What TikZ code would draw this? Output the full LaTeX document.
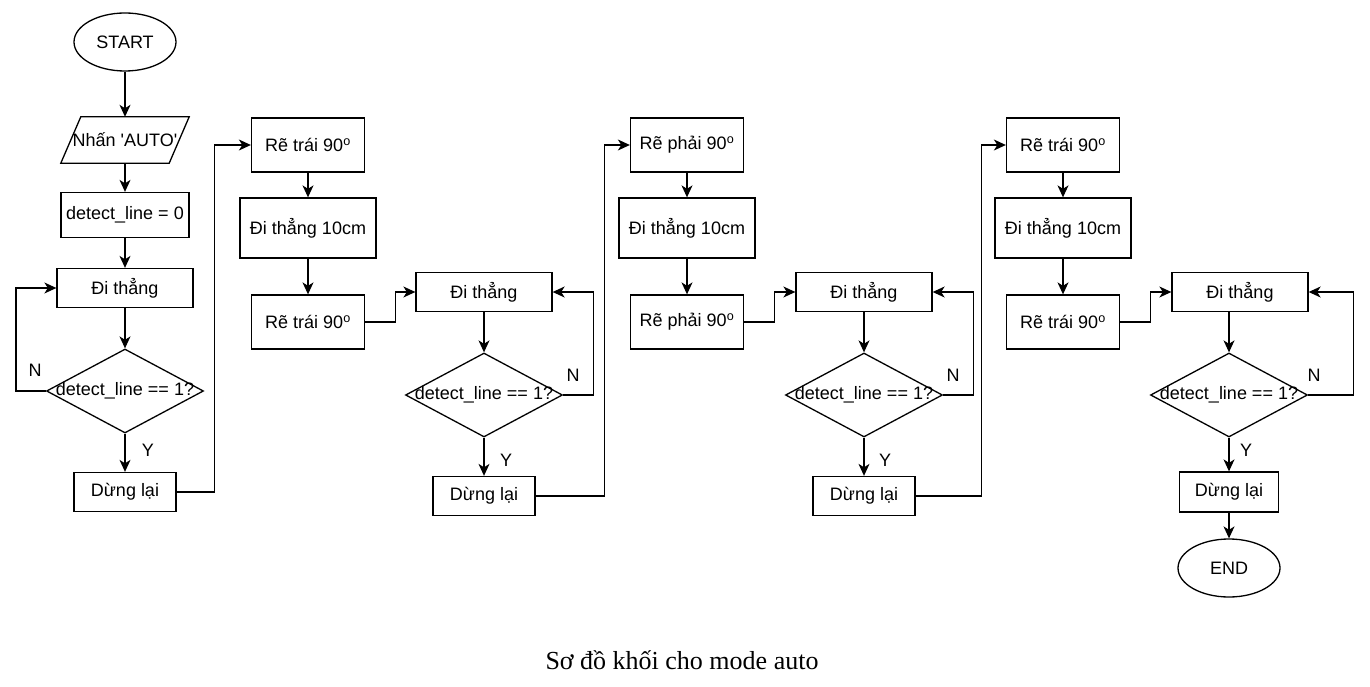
\documentclass[tikz,border=0pt]{standalone}
\usepackage{fontspec}
\setmainfont{Liberation Sans}
\newfontfamily\plainfont{Liberation Sans}
\newfontfamily\capfont{Liberation Serif}
\usetikzlibrary{shapes.geometric}
\usetikzlibrary{arrows.meta}

\tikzset{
  every node/.style={font=\fontsize{18}{21}\selectfont},
  box/.style={draw, line width=1.3pt, rectangle, inner sep=0pt, minimum width=113pt, minimum height=54pt},
  longbox/.style={box, minimum width=136pt, minimum height=60pt},
  gobox/.style={box, minimum width=136pt, minimum height=39pt},
  stopbox/.style={box, minimum width=102pt, minimum height=39pt},
  decision/.style={draw, line width=1.3pt, diamond, inner sep=0pt, minimum width=157pt, minimum height=84pt},
  terminal/.style={draw, line width=1.3pt, ellipse, inner sep=0pt, minimum width=102pt, minimum height=58pt},
  conn/.style={line width=1.3pt, -{Stealth[length=12pt,width=11pt,inset=3.5pt]}},
  lbl/.style={inner sep=0pt}
}

\begin{document}
\begin{tikzpicture}[x=1pt,y=-1pt]
\useasboundingbox (0,0) rectangle (1370,687);

  \node[terminal] (start) at (125,42) {START};
  \node[inner sep=0pt, minimum width=108pt, minimum height=46pt] (auto) at (125,140) {\makebox[0pt]{\plainfont Nhấn 'AUTO'}};
  \draw[line width=1.3pt] ([xshift=-10pt]auto.south west) -- ([xshift=-10pt]auto.south east) -- ([xshift=10pt]auto.north east) -- ([xshift=10pt]auto.north west) -- cycle;
  \node[box, minimum width=128pt, minimum height=45pt] (init) at (125,215) {detect\_line = 0};
  \node[gobox] (go1) at (125,288) {Đi thẳng};
  \node[decision] (dec1) at (125,391) {\makebox[0pt]{detect\_line == 1?}};
  \node[stopbox] (stop1) at (125,492) {Dừng lại};
  \node[lbl] (n1) at (35,370) {N};
  \node[lbl] (y1) at (148,450) {Y};

  \node[box] (left1) at (308,145) {Rẽ trái 90\textsuperscript{o}};
  \node[longbox] (fwd1) at (308,228) {Đi thẳng 10cm};
  \node[box] (left2) at (308,322) {Rẽ trái 90\textsuperscript{o}};
  \node[gobox] (go2) at (484,292) {Đi thẳng};
  \node[decision] (dec2) at (484,395) {\makebox[0pt]{detect\_line == 1?}};
  \node[stopbox] (stop2) at (484,496) {Dừng lại};
  \node[lbl] (n2) at (573,375) {N};
  \node[lbl] (y2) at (506,460) {Y};

  \node[box] (right1) at (687,145) {Rẽ phải 90\textsuperscript{o}};
  \node[longbox] (fwd2) at (687,228) {Đi thẳng 10cm};
  \node[box] (right2) at (687,322) {Rẽ phải 90\textsuperscript{o}};
  \node[gobox] (go3) at (864,292) {Đi thẳng};
  \node[decision] (dec3) at (864,395) {\makebox[0pt]{detect\_line == 1?}};
  \node[stopbox] (stop3) at (864,496) {Dừng lại};
  \node[lbl] (n3) at (953,375) {N};
  \node[lbl] (y3) at (885,460) {Y};

  \node[box] (left3) at (1063,145) {Rẽ trái 90\textsuperscript{o}};
  \node[longbox] (fwd3) at (1063,228) {Đi thẳng 10cm};
  \node[box] (left4) at (1063,322) {Rẽ trái 90\textsuperscript{o}};
  \node[gobox] (go4) at (1240,292) {Đi thẳng};
  \node[decision] (dec4) at (1229,395) {\makebox[0pt]{detect\_line == 1?}};
  \node[stopbox, minimum width=99pt, minimum height=40pt] (stop4) at (1229,492) {Dừng lại};
  \node[terminal] (end) at (1229,568) {END};
  \node[lbl] (n4) at (1314,375) {N};
  \node[lbl] (y4) at (1246,450) {Y};

  \node[font=\capfont\fontsize{26}{30}\selectfont] (cap) at (682,660) {Sơ đồ khối cho mode auto};

  \draw[conn] (start) -- (auto);
  \draw[conn] (auto) -- (init);
  \draw[conn] (init) -- (go1);
  \draw[conn] (go1) -- (dec1);
  \draw[conn] (dec1) -- (stop1);
  \draw[conn] (dec1.west) -- ++(-30,0) |- (go1.west);
  \draw[conn] (stop1.east) -- ++(38,0) |- (left1.west);

  \draw[conn] (left1) -- (fwd1);
  \draw[conn] (fwd1) -- (left2);
  \draw[conn] (left2.east) -- ++(30,0) |- (go2.west);
  \draw[conn] (go2) -- (dec2);
  \draw[conn] (dec2) -- (stop2);
  \draw[conn] (dec2.east) -- ++(30,0) |- (go2.east);
  \draw[conn] (stop2.east) -- ++(69,0) |- (right1.west);

  \draw[conn] (right1) -- (fwd2);
  \draw[conn] (fwd2) -- (right2);
  \draw[conn] (right2.east) -- ++(30,0) |- (go3.west);
  \draw[conn] (go3) -- (dec3);
  \draw[conn] (dec3) -- (stop3);
  \draw[conn] (dec3.east) -- ++(30,0) |- (go3.east);
  \draw[conn] (stop3.east) -- ++(66,0) |- (left3.west);

  \draw[conn] (left3) -- (fwd3);
  \draw[conn] (fwd3) -- (left4);
  \draw[conn] (left4.east) -- ++(30,0) |- (go4.west);
  \draw[conn] (dec4.north |- go4.south) -- (dec4.north);
  \draw[conn] (dec4) -- (stop4);
  \draw[conn] (dec4.east) -- ++(45,0) |- (go4.east);
  \draw[conn] (stop4) -- (end);

\end{tikzpicture}
\end{document}
